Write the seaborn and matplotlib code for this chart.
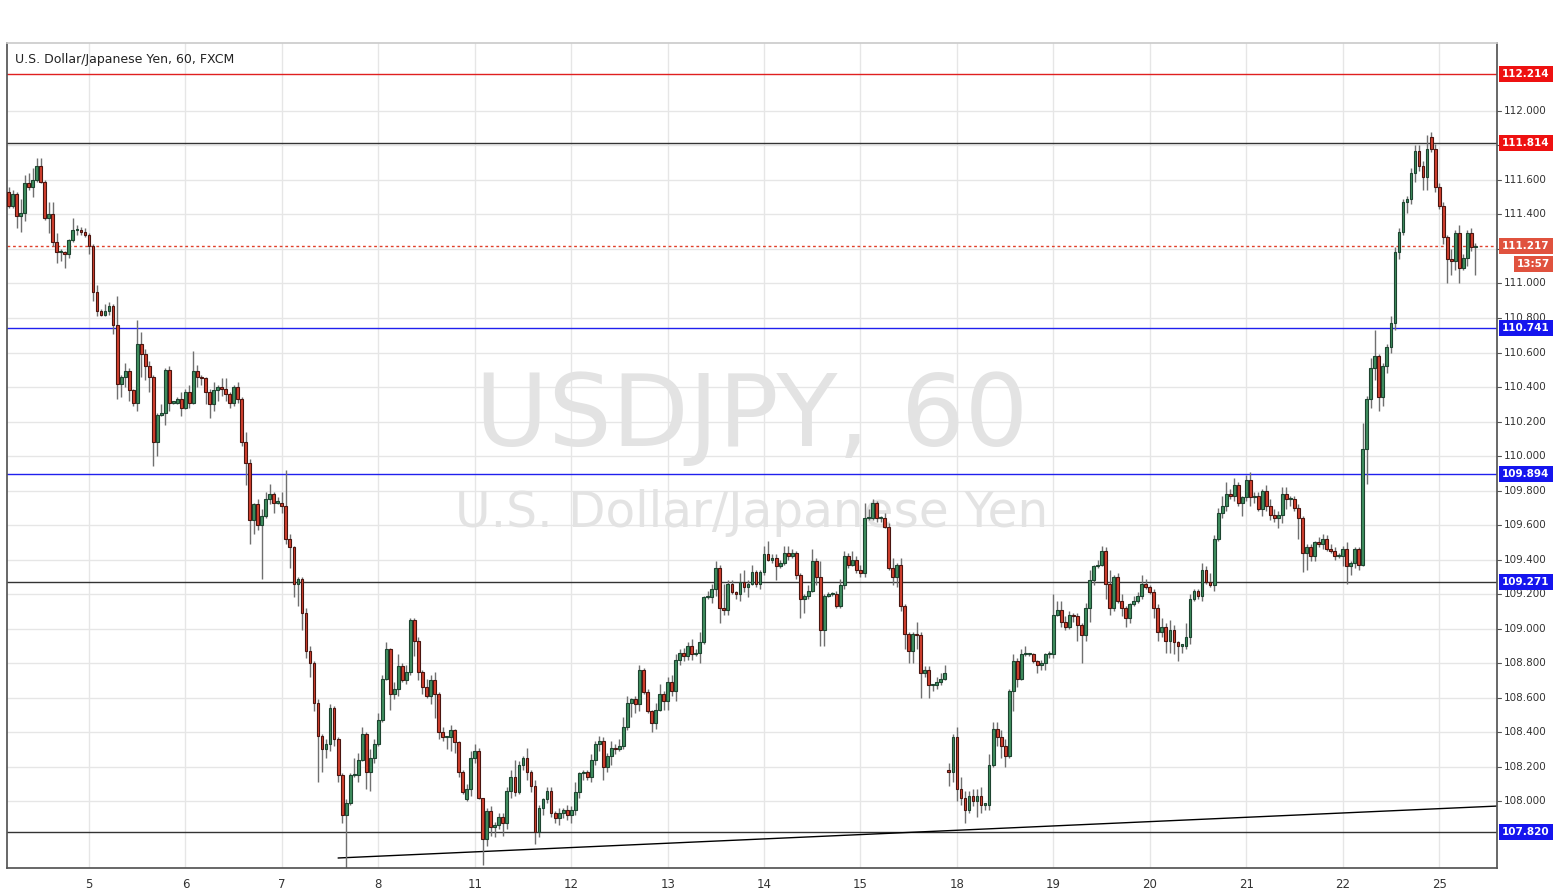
import numpy as np
import pandas as pd
import matplotlib
matplotlib.use("Agg")
import matplotlib.pyplot as plt
import matplotlib.transforms as mtransforms
import seaborn as sns

# ---------------- data ----------------
closes = [
 111.45,111.52,111.39,111.41,111.58,111.56,111.60,111.68,111.59,111.38,111.40,111.24,111.18,111.18,111.17,111.25,111.31,111.31,111.30,111.28,
 111.22,110.95,110.84,110.82,110.84,110.87,110.76,110.42,110.46,110.49,110.38,110.31,110.65,110.59,110.52,110.46,110.08,110.24,110.25,110.50,110.31,110.31,110.33,110.28,
 110.37,110.31,110.49,110.46,110.45,110.37,110.30,110.38,110.40,110.39,110.36,110.31,110.40,110.33,110.08,109.96,109.63,109.72,109.60,109.65,109.75,109.78,109.73,109.73,
 109.71,109.52,109.47,109.26,109.29,109.09,108.87,108.80,108.57,108.38,108.30,108.33,108.54,108.36,108.15,107.92,107.99,108.15,108.15,108.24,108.39,108.17,108.25,108.33,
 108.47,108.71,108.88,108.62,108.65,108.78,108.70,108.75,109.05,108.93,108.75,108.66,108.61,108.70,108.62,108.40,108.37,108.37,108.41,108.34,108.17,108.05,108.07,108.25,
 108.29,108.02,107.78,107.94,107.85,107.86,107.91,107.87,108.06,108.14,108.05,108.21,108.25,108.17,108.09,107.82,107.96,108.01,108.06,107.93,107.90,107.93,107.95,107.92,
 107.95,108.05,108.16,108.17,108.14,108.24,108.33,108.35,108.20,108.26,108.31,108.30,108.32,108.43,108.57,108.59,108.56,108.76,108.63,108.52,108.45,108.53,108.62,108.58,
 108.69,108.64,108.82,108.86,108.84,108.90,108.85,108.86,108.92,109.18,109.18,109.23,109.35,109.12,109.11,109.26,109.21,109.20,109.27,109.24,109.26,109.33,109.26,109.33,
 109.43,109.40,109.41,109.36,109.38,109.44,109.42,109.44,109.31,109.17,109.19,109.22,109.39,109.30,108.99,109.19,109.20,109.20,109.13,109.25,109.42,109.37,109.40,109.34,
 109.32,109.64,109.64,109.73,109.64,109.64,109.59,109.35,109.30,109.37,109.13,108.97,108.87,108.97,108.96,108.74,108.76,108.67,108.67,108.69,108.71,108.74,108.17,108.37,
 108.07,108.02,107.95,108.03,108.00,108.03,107.98,107.98,108.21,108.42,108.37,108.32,108.26,108.64,108.81,108.71,108.85,108.85,108.85,108.81,108.79,108.80,108.85,108.85,
 109.08,109.11,109.04,109.01,109.08,109.07,109.02,108.96,109.12,109.28,109.36,109.37,109.45,109.26,109.12,109.30,109.16,109.12,109.06,109.14,109.16,109.19,109.26,109.24,
 109.21,109.12,108.98,109.01,108.93,108.99,108.92,108.90,108.90,108.95,109.17,109.22,109.19,109.34,109.27,109.25,109.52,109.67,109.71,109.78,109.77,109.83,109.73,109.76,
 109.86,109.76,109.77,109.69,109.80,109.71,109.66,109.64,109.66,109.78,109.75,109.75,109.70,109.64,109.44,109.47,109.42,109.50,109.49,109.52,109.46,109.45,109.42,109.42,
 109.46,109.36,109.38,109.46,109.37,110.04,110.33,110.51,110.58,110.34,110.52,110.63,110.77,111.18,111.30,111.47,111.49,111.64,111.77,111.68,111.62,111.78,111.78,111.56,
 111.45,111.27,111.14,111.13,111.29,111.09,111.15,111.29,111.21,111.217,
]
first_open = 111.53
gap_opens = {114: 108.01, 234: 108.18, 354: 111.85}

wick_up = [  # hundredths of a yen above the body
 3,2,1,8,5,6,7,5,5,1,7,7,5,2,1,1,7,3,2,2,
 1,1,4,1,4,2,1,17,1,5,2,1,14,7,3,3,1,1,5,1,2,1,1,4,
 2,4,12,4,1,1,2,5,1,5,6,1,1,3,1,6,2,1,3,4,4,6,1,3,
 6,21,3,1,1,1,3,3,1,2,1,3,2,1,1,1,2,1,10,4,4,1,5,3,
 4,2,4,1,4,7,2,4,1,1,2,1,5,3,5,1,3,1,3,1,1,1,3,4,
 4,2,0,2,3,2,2,2,2,4,10,2,1,6,1,3,2,1,2,2,1,3,1,3,
 2,6,1,1,1,3,2,3,2,2,4,2,4,6,4,1,2,3,1,2,1,4,6,2,
 3,4,3,2,3,2,4,2,6,1,4,3,4,2,14,2,2,1,5,7,2,4,1,1,
 5,8,2,2,2,4,4,2,1,1,1,3,7,2,9,1,1,1,2,4,3,2,5,2,
 3,9,5,2,1,1,3,2,6,1,4,1,1,1,7,2,2,2,1,3,3,5,4,2,
 6,7,4,3,4,4,5,1,6,4,4,4,4,1,4,2,3,5,1,1,1,2,1,2,
 12,5,5,3,2,1,2,1,3,6,1,3,3,2,8,1,2,4,1,1,3,2,5,3,
 1,2,2,5,2,6,3,1,1,8,3,1,1,4,2,5,2,3,6,7,3,4,2,1,
 3,5,2,2,1,3,4,3,2,4,4,2,2,2,1,2,2,1,3,3,2,3,2,2,
 2,4,1,1,1,15,2,6,15,1,2,2,4,3,2,2,2,3,3,3,3,8,3,3,
 2,2,1,6,2,5,2,2,3,2,
]
wick_dn = [  # hundredths of a yen below the body
 1,1,7,9,5,2,6,1,1,1,9,2,6,5,8,2,1,3,2,1,
 5,5,3,1,1,2,5,9,8,6,6,2,5,13,8,9,14,8,1,7,5,1,1,5,
 1,3,1,6,4,7,8,4,6,4,4,3,2,2,2,13,14,8,3,31,1,3,6,1,
 4,3,12,8,13,10,4,8,5,27,13,5,4,4,4,5,43,1,1,4,1,10,11,3,
 1,1,1,9,3,4,1,2,2,9,5,4,1,5,14,4,2,7,8,6,3,1,1,4,
 3,1,15,4,5,6,2,7,3,4,2,1,3,5,4,7,3,4,2,2,3,4,3,3,
 5,3,3,4,2,3,3,4,8,3,5,3,1,2,2,8,5,4,1,1,5,3,1,5,
 5,3,6,3,3,2,3,1,6,1,1,3,4,9,3,3,1,3,4,3,6,1,2,3,
 2,1,2,8,1,1,2,1,2,11,8,2,1,5,9,9,1,1,1,1,2,2,1,2,
 2,2,1,1,2,2,1,1,5,6,3,9,7,7,8,14,2,7,3,2,2,1,8,6,
 7,4,8,2,3,9,5,3,3,1,5,7,6,1,12,5,1,1,1,1,5,3,4,2,
 2,1,3,2,1,3,9,16,3,8,3,1,1,9,4,2,1,5,5,3,1,1,2,1,
 1,6,5,3,7,7,7,9,4,2,4,1,2,3,1,1,3,1,3,3,2,3,2,8,
 2,5,3,1,4,3,3,2,6,5,6,4,2,12,11,10,3,3,2,3,1,1,2,1,
 6,10,5,3,3,1,20,5,7,8,5,4,3,4,4,2,6,3,5,3,8,8,2,3,
 2,4,14,8,5,9,1,5,2,16,
]

day_labels = ["5", "6", "7", "8", "11", "12", "13", "14", "15", "18", "19", "20", "21", "22", "25"]
day_first_hour = 20          # candle index where day "5" begins
hours_per_day = 24

level_values = [112.214, 111.814, 110.741, 109.894, 109.271, 107.820]
level_line_colors = ["#e02020", "#333333", "#2020ee", "#2020ee", "#333333", "#333333"]
level_box_colors = ["#ee1111", "#ee1111", "#1515ee", "#1515ee", "#1515ee", "#1515ee"]
current_price = 111.217
countdown = "13:57"
trend_start = (82.0, 107.670)
trend_end = (370.4, 107.971)
price_ticks = [108.0, 108.2, 108.4, 108.6, 108.8, 109.0, 109.2, 109.4, 109.6, 109.8,
               110.0, 110.2, 110.4, 110.6, 110.8, 111.0, 111.2, 111.4, 111.6, 111.8, 112.0]

# ---------------- build table ----------------
n = len(closes)
opens = [first_open] + closes[:-1]
for k, v in gap_opens.items():
    opens[k] = v
df = pd.DataFrame({"i": np.arange(n), "open": opens, "close": closes,
                   "up": np.array(wick_up) / 100.0, "dn": np.array(wick_dn) / 100.0})
df["high"] = df[["open", "close"]].max(axis=1) + df["up"]
df["low"] = df[["open", "close"]].min(axis=1) - df["dn"]
df["rise"] = df["close"] >= df["open"]

# ---------------- figure ----------------
sns.set_theme(style="white")
plt.rcParams["font.family"] = ["DejaVu Sans"]
W, H = 1555, 894
fig = plt.figure(figsize=(W / 100, H / 100), dpi=100)
fig.patch.set_facecolor("white")
ax = fig.add_axes([7 / W, 1 - 868 / H, (1497 - 7) / W, (868 - 43) / H])
ax.set_facecolor("white")

xmin, xmax = -0.4, 370.4
ymin, ymax = 107.612, 112.394
ax.set_xlim(xmin, xmax)
ax.set_ylim(ymin, ymax)

# grid
day_pos = [day_first_hour + hours_per_day * k for k in range(len(day_labels))]
for x in day_pos:
    ax.axvline(x, color="#e6e6e6", lw=1, zorder=0)
for y in price_ticks:
    ax.axhline(y, color="#e6e6e6", lw=1, zorder=0)

# watermark
ax.text(0.5, 0.545, "USDJPY, 60", transform=ax.transAxes, ha="center", va="center",
        fontsize=72, color="#e3e3e3", zorder=0.5)
ax.text(0.5, 0.43, "U.S. Dollar/Japanese Yen", transform=ax.transAxes, ha="center",
        va="center", fontsize=35, color="#e3e3e3", zorder=0.5)

# levels
for v, c in zip(level_values, level_line_colors):
    ax.axhline(v, color=c, lw=1, zorder=1)
ax.axhline(current_price, color="#e0402a", lw=1, ls=(0, (2, 2)), zorder=1)
sns.lineplot(x=[trend_start[0], trend_end[0]], y=[trend_start[1], trend_end[1]],
             ax=ax, color="black", lw=1, zorder=1)

# candles
up_face, up_edge = "#3f8f5f", "#1d4430"
dn_face, dn_edge = "#d2402e", "#4a1510"
ax.vlines(df["i"], df["low"], df["high"], color="#707070", lw=1, zorder=2)
for rise, face, edge in [(True, up_face, up_edge), (False, dn_face, dn_edge)]:
    d = df[df["rise"] == rise]
    bottoms = d[["open", "close"]].min(axis=1)
    heights = (d["close"] - d["open"]).abs().clip(lower=0.008)
    ax.bar(d["i"], heights, bottom=bottoms, width=0.7, color=face,
           edgecolor=edge, linewidth=0.8, zorder=3)

# axes styling
ax.spines["left"].set_color("#555555")
ax.spines["bottom"].set_color("#555555")
ax.spines["right"].set_color("#555555")
ax.spines["top"].set_color("#cccccc")
ax.set_xticks(day_pos)
ax.set_xticklabels(day_labels, fontsize=8.5, color="#333333")
ax.tick_params(axis="x", length=4, color="#555555", pad=3)
ax.set_yticks([])
ax.set_xlabel("")
ax.set_ylabel("")

# right-side price labels (hidden where a boxed label covers them)
boxed = level_values + [current_price]
trans = mtransforms.blended_transform_factory(ax.transAxes, ax.transData)
for y in price_ticks:
    ax.plot([1.0, 1.003], [y, y], transform=trans, color="#555555", lw=0.8, clip_on=False)
    if min(abs(y - b) for b in boxed) < 0.03:
        continue
    ax.text(1.0045, y, f"{y:.3f}", transform=trans, ha="left", va="center",
            fontsize=7.5, color="#333333", clip_on=False)

def box_label(y, text, color):
    ax.text(1.0035, y, text, transform=trans, ha="left", va="center", fontsize=7.5,
            fontweight="bold", color="white", clip_on=False, zorder=10,
            bbox=dict(boxstyle="square,pad=0.3", facecolor=color, edgecolor="none"))

for v, c in zip(level_values, level_box_colors):
    box_label(v, f"{v:.3f}", c)
box_label(current_price, f"{current_price:.3f}", "#e0523e")
ax.text(1.0135, current_price - 0.105, countdown, transform=trans, ha="left", va="center",
        fontsize=7.5, fontweight="bold", color="white", clip_on=False, zorder=10,
        bbox=dict(boxstyle="square,pad=0.3", facecolor="#e0523e", edgecolor="none"))

# title
fig.text(15 / W, 1 - 60 / H, "U.S. Dollar/Japanese Yen, 60, FXCM", ha="left", va="center",
         fontsize=9, color="#222222")

fig.savefig("out.png", dpi=100, facecolor="white")
